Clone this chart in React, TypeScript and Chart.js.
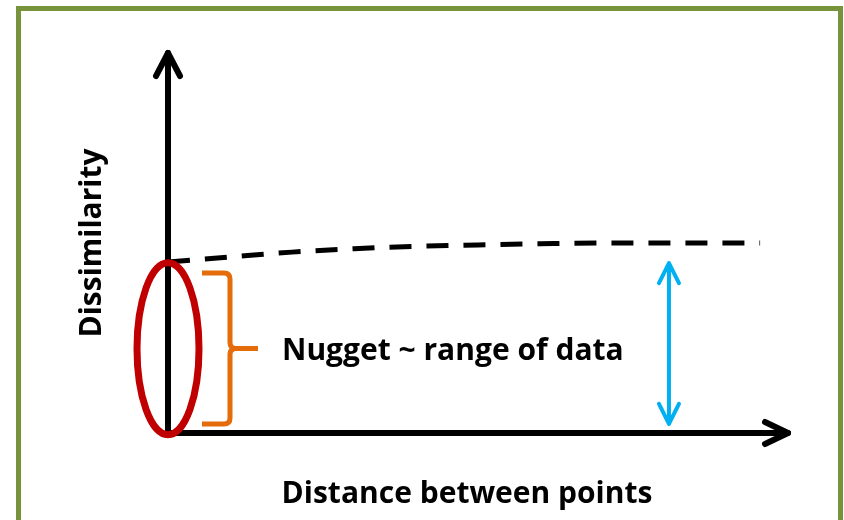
import React, { useEffect, useRef } from "react";
import { Chart, registerables } from "chart.js";

Chart.register(...registerables);

// Semivariogram-style curve (data units: 0..100 on both axes)
const distance = [0, 10, 20, 30, 40, 50, 60, 70, 80, 95.5];
const dissimilarity = [45.0, 46.3, 47.6, 48.5, 49.1, 49.5, 49.8, 50.0, 50.0, 50.0];

const xAxisTitle = "Distance between points";
const yAxisTitle = "Dissimilarity";
const nuggetLabel = "Nugget ~ range of data";

// annotation anchors in data units
const nuggetBottom = [2.4];
const nuggetTop = [42.1];
const sillArrowX = [80.8];
const sillArrowRange = [2.4, 44.7];
const ellipseCenterY = [22.2];

const FONT = "'Open Sans', Lato, sans-serif";

const drawPlugin = {
  id: "nuggetDiagram",
  beforeDraw(chart: any) {
    const ctx = chart.ctx;
    ctx.save();
    ctx.fillStyle = "#ffffff";
    ctx.fillRect(0, 0, chart.width, chart.height);
    // green frame
    ctx.strokeStyle = "#77933C";
    ctx.lineWidth = 5;
    ctx.beginPath();
    ctx.moveTo(18.5, 540);
    ctx.lineTo(18.5, 8.5);
    ctx.lineTo(840.5, 8.5);
    ctx.lineTo(840.5, 540);
    ctx.stroke();
    ctx.restore();
  },
  beforeDatasetsDraw(chart: any) {
    const ctx = chart.ctx;
    const xs = chart.scales.x;
    const ys = chart.scales.y;
    const x0 = xs.getPixelForValue(0);
    const x1 = xs.getPixelForValue(100);
    const y0 = ys.getPixelForValue(0);
    const y1 = ys.getPixelForValue(100);
    ctx.save();
    ctx.strokeStyle = "#000";
    ctx.lineWidth = 6;
    ctx.lineCap = "round";
    ctx.lineJoin = "round";
    // y axis
    ctx.beginPath();
    ctx.moveTo(x0, y0);
    ctx.lineTo(x0, y1);
    ctx.stroke();
    ctx.beginPath();
    ctx.moveTo(x0 - 12, y1 + 23);
    ctx.lineTo(x0, y1);
    ctx.lineTo(x0 + 12, y1 + 23);
    ctx.stroke();
    // x axis
    ctx.beginPath();
    ctx.moveTo(x0, y0);
    ctx.lineTo(x1, y0);
    ctx.stroke();
    ctx.beginPath();
    ctx.moveTo(x1 - 23, y0 - 11);
    ctx.lineTo(x1, y0);
    ctx.lineTo(x1 - 23, y0 + 11);
    ctx.stroke();
    ctx.restore();
  },
  afterDatasetsDraw(chart: any) {
    const ctx = chart.ctx;
    const xs = chart.scales.x;
    const ys = chart.scales.y;
    const x0 = xs.getPixelForValue(0);
    const y0 = ys.getPixelForValue(0);
    ctx.save();

    // axis titles
    ctx.fillStyle = "#000";
    ctx.font = `bold 30px ${FONT}`;
    ctx.textAlign = "center";
    ctx.textBaseline = "alphabetic";
    ctx.fillText(xAxisTitle, (x0 + xs.getPixelForValue(100)) / 2 - 11, y0 + 70);
    ctx.save();
    ctx.translate(101, ys.getPixelForValue(50) + 0);
    ctx.rotate(-Math.PI / 2);
    ctx.fillText(yAxisTitle, 0, 0);
    ctx.restore();

    // orange brace
    const bt = ys.getPixelForValue(nuggetTop[0]);
    const bb = ys.getPixelForValue(nuggetBottom[0]);
    const bm = (bt + bb) / 2;
    const bl = x0 + 34;
    const bv = x0 + 62;
    const btip = x0 + 90;
    ctx.strokeStyle = "#E46C0A";
    ctx.lineWidth = 5;
    ctx.lineCap = "butt";
    ctx.lineJoin = "round";
    ctx.beginPath();
    ctx.moveTo(bl, bt);
    ctx.lineTo(bv - 6, bt);
    ctx.quadraticCurveTo(bv, bt, bv, bt + 6);
    ctx.lineTo(bv, bm - 6);
    ctx.quadraticCurveTo(bv, bm, bv + 6, bm);
    ctx.lineTo(btip, bm);
    ctx.moveTo(bv + 6, bm);
    ctx.quadraticCurveTo(bv, bm, bv, bm + 6);
    ctx.lineTo(bv, bb - 6);
    ctx.quadraticCurveTo(bv, bb, bv - 6, bb);
    ctx.lineTo(bl, bb);
    ctx.stroke();

    // nugget label
    ctx.fillStyle = "#000";
    ctx.font = `bold 30px ${FONT}`;
    ctx.textAlign = "left";
    ctx.fillText(nuggetLabel, x0 + 114, bm + 12);

    // blue double arrow
    const ax = xs.getPixelForValue(sillArrowX[0]);
    const ayb = ys.getPixelForValue(sillArrowRange[0]);
    const ayt = ys.getPixelForValue(sillArrowRange[1]);
    ctx.strokeStyle = "#00B0F0";
    ctx.lineWidth = 4;
    ctx.lineCap = "round";
    ctx.beginPath();
    ctx.moveTo(ax, ayt);
    ctx.lineTo(ax, ayb);
    ctx.moveTo(ax - 10, ayt + 20);
    ctx.lineTo(ax, ayt);
    ctx.lineTo(ax + 10, ayt + 20);
    ctx.moveTo(ax - 10, ayb - 20);
    ctx.lineTo(ax, ayb);
    ctx.lineTo(ax + 10, ayb - 20);
    ctx.stroke();

    // red ellipse
    ctx.strokeStyle = "#C00000";
    ctx.lineWidth = 7;
    ctx.beginPath();
    ctx.ellipse(x0, ys.getPixelForValue(ellipseCenterY[0]), 31, 86, 0, 0, Math.PI * 2);
    ctx.stroke();

    ctx.restore();
  },
};

export default function App() {
  const ref = useRef<HTMLCanvasElement | null>(null);
  useEffect(() => {
    document.body.style.margin = "0";
    const canvas = ref.current;
    if (!canvas) return;
    const chart = new Chart(canvas, {
      type: "line",
      data: {
        datasets: [
          {
            label: "Dissimilarity",
            data: distance.map((d, i) => ({ x: d, y: dissimilarity[i] })),
            borderColor: "#000",
            borderWidth: 5,
            borderDash: [22, 15],
            pointRadius: 0,
            cubicInterpolationMode: "monotone",
            fill: false,
          },
        ],
      },
      options: {
        animation: false,
        responsive: false,
        devicePixelRatio: 1,
        layout: { padding: { left: 168, right: 56, top: 53, bottom: 87 } },
        plugins: { legend: { display: false }, tooltip: { enabled: false } },
        events: [],
        scales: {
          x: { type: "linear", min: 0, max: 100, display: false },
          y: { type: "linear", min: 0, max: 100, display: false },
        },
      },
      plugins: [drawPlugin],
    } as any);
    return () => chart.destroy();
  }, []);
  return (
    <div style={{ position: "fixed", left: 0, top: 0, width: 844, height: 520 }}>
      <canvas ref={ref} width={844} height={520} />
    </div>
  );
}
